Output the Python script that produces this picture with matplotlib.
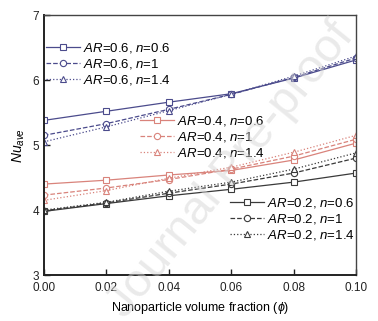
import numpy as np
import matplotlib.pyplot as plt
from matplotlib.legend import Legend

plt.rcParams['font.family'] = ['Liberation Sans', 'DejaVu Sans']
plt.rcParams['mathtext.fontset'] = 'custom'
plt.rcParams['mathtext.rm'] = 'Liberation Sans'
plt.rcParams['mathtext.it'] = 'Liberation Sans:italic'

phi = [0.00, 0.02, 0.04, 0.06, 0.08, 0.10]

# AR=0.6
ar06_n06 = [5.38, 5.52, 5.66, 5.79, 6.03, 6.31]
ar06_n10 = [5.15, 5.33, 5.55, 5.78, 6.04, 6.34]
ar06_n14 = [5.05, 5.28, 5.53, 5.78, 6.06, 6.37]
# AR=0.4
ar04_n06 = [4.40, 4.46, 4.54, 4.61, 4.77, 5.03]
ar04_n10 = [4.23, 4.34, 4.47, 4.63, 4.83, 5.09]
ar04_n14 = [4.15, 4.30, 4.49, 4.66, 4.89, 5.15]
# AR=0.2
ar02_n06 = [3.98, 4.10, 4.22, 4.32, 4.43, 4.57]
ar02_n10 = [3.99, 4.11, 4.26, 4.40, 4.57, 4.80]
ar02_n14 = [4.00, 4.12, 4.29, 4.43, 4.63, 4.88]

navy = '#4b4b8c'
red = '#d9837b'
dark = '#3a3a3a'

fig = plt.figure(figsize=(3.78, 3.21), dpi=100)
ax = fig.add_axes([0.116, 0.143, 0.826, 0.81])

styles = [('-', 's'), ('--', 'o'), (':', '^')]
groups = [
    ('0.6', navy, [ar06_n06, ar06_n10, ar06_n14]),
    ('0.4', red, [ar04_n06, ar04_n10, ar04_n14]),
    ('0.2', dark, [ar02_n06, ar02_n10, ar02_n14]),
]
nvals = ['0.6', '1', '1.4']
legend_pos = [(0.006, 0.90), (0.308, 0.62), (0.596, 0.305)]

for (ar, col, series), pos in zip(groups, legend_pos):
    hs = []
    for (ls, mk), vals, nv in zip(styles, series, nvals):
        h, = ax.plot(phi, vals, linestyle=ls, marker=mk, color=col, lw=0.9,
                     markersize=4.5, markerfacecolor='white', markeredgewidth=0.8)
        hs.append(h)
    labels = [r'$AR$=' + ar + r', $n$=' + nv for nv in nvals]
    leg = Legend(ax, hs, labels, loc='upper left', bbox_to_anchor=pos, frameon=False,
                 fontsize=9.5, handlelength=2.6, handletextpad=0.2,
                 labelspacing=0.15, borderaxespad=0, borderpad=0)
    ax.add_artist(leg)

ax.set_xlim(0, 0.10)
ax.set_ylim(3, 7)
ax.set_xticks(phi)
ax.set_xticklabels(['0.00', '0.02', '0.04', '0.06', '0.08', '0.10'])
ax.set_yticks([3, 4, 5, 6, 7])
ax.tick_params(direction='in', labelsize=8.5, length=4, width=1, colors='#222222')
ax.tick_params(axis='x', pad=5)
for s in ['left', 'bottom']:
    ax.spines[s].set_linewidth(1.4)
    ax.spines[s].set_color('#222222')
for s in ['top', 'right']:
    ax.spines[s].set_linewidth(1.0)
    ax.spines[s].set_color('#444444')

ax.set_xlabel(r'Nanoparticle volume fraction ($\phi$)', fontsize=9)
ax.set_ylabel(r'$Nu_{ave}$', fontsize=10, labelpad=4)

fig.text(0.61, 0.47, 'Journal Pre-proof', fontsize=34, color='#d5d5d5', alpha=0.5,
         rotation=51, ha='center', va='center', zorder=0)

fig.savefig('out.png', dpi=100)
